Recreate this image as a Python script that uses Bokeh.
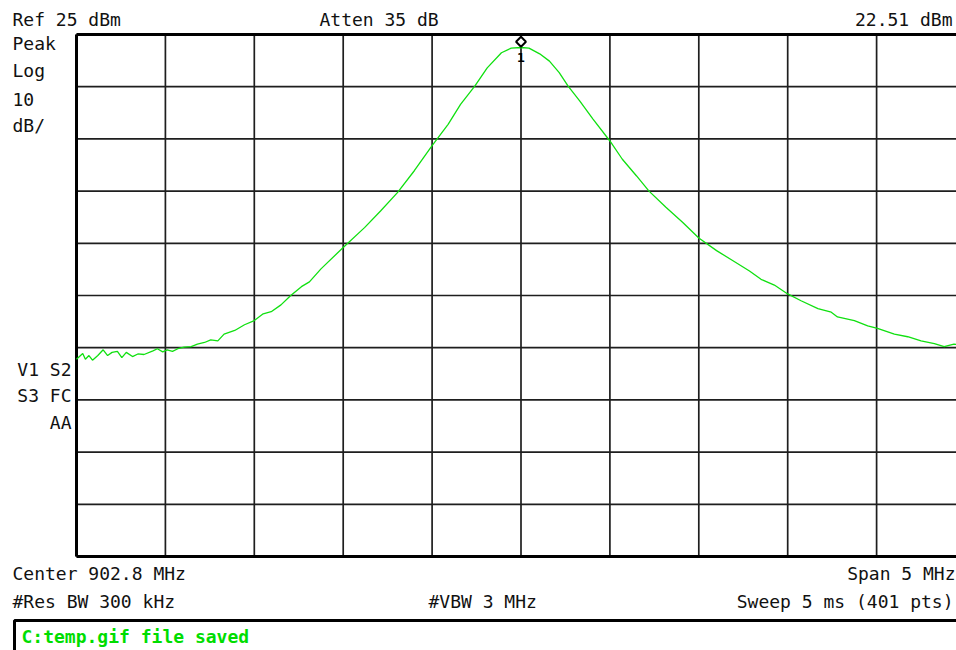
from bokeh.plotting import figure
from bokeh.models import Label, Range1d, BoxAnnotation
from bokeh.embed import file_html
from bokeh.resources import INLINE
from bokeh.core.properties import value

freq_mhz = [
    900.300, 900.335, 900.350, 900.370, 900.390, 900.420, 900.450, 900.475, 900.500, 900.530,
    900.555, 900.580, 900.615, 900.645, 900.680, 900.730, 900.755, 900.785, 900.810, 900.840,
    900.870, 900.905, 900.945, 900.980, 901.020, 901.055, 901.095, 901.130, 901.190, 901.245,
    901.300, 901.350, 901.395, 901.450, 901.505, 901.565, 901.610, 901.675, 901.800, 901.920,
    902.010, 902.105, 902.200, 902.300, 902.390, 902.460, 902.540, 902.610, 902.690, 902.745,
    902.800, 902.845, 902.905, 902.960, 903.015, 903.065, 903.130, 903.205, 903.300, 903.370,
    903.450, 903.520, 903.615, 903.710, 903.800, 903.900, 903.990, 904.085, 904.150, 904.225,
    904.300, 904.375, 904.470, 904.545, 904.580, 904.675, 904.750, 904.805, 904.900, 904.975,
    905.050, 905.125, 905.180, 905.235, 905.300,
]
level_dbm = [
    -37.2, -36.1, -37.2, -36.5, -37.4, -36.5, -35.4, -36.5, -35.9, -35.7,
    -36.9, -35.9, -36.7, -36.2, -36.3, -35.6, -35.2, -35.8, -35.4, -35.7,
    -35.2, -34.9, -34.8, -34.3, -34.0, -33.5, -33.7, -32.4, -31.7, -30.6,
    -29.8, -28.5, -28.1, -26.8, -25.0, -23.3, -22.4, -19.9, -15.8, -12.0,
    -8.8, -5.3, -1.1, 3.7, 7.8, 11.6, 15.1, 18.6, 21.5, 22.4,
    22.51, 22.4, 21.3, 19.9, 17.7, 15.1, 12.3, 8.8, 4.6, 1.1,
    -2.1, -5.0, -8.1, -11.0, -14.0, -16.4, -18.3, -20.3, -21.9, -23.0,
    -24.7, -26.0, -27.5, -28.2, -29.1, -29.8, -30.8, -31.3, -32.4, -32.9,
    -33.7, -34.2, -34.8, -34.3, -34.6,
]
x_ticks = [900.3, 900.8, 901.3, 901.8, 902.3, 902.8, 903.3, 903.8, 904.3, 904.8, 905.3]
y_ticks = [-75, -65, -55, -45, -35, -25, -15, -5, 5, 15, 25]

W, H = 956, 650
GRAT_LEFT_PX, GRAT_TOP_PX = 76, 34          # graticule position on screen
PX_PER_MHZ, PX_PER_DB = 177.8, 5.22
f0, f1 = x_ticks[0], x_ticks[-1]
l_top, l_bot = y_ticks[-1], y_ticks[0]

x_start = f0 - GRAT_LEFT_PX / PX_PER_MHZ
x_end = x_start + W / PX_PER_MHZ
y_end = l_top + GRAT_TOP_PX / PX_PER_DB
y_start = y_end - H / PX_PER_DB

GREEN = "#10e010"
FONT = "DejaVu Sans Mono"

p = figure(width=W, height=H, title=None,
           x_range=Range1d(x_start, x_end), y_range=Range1d(y_start, y_end),
           x_axis_type=None, y_axis_type=None,
           output_backend="svg", toolbar_location=None, min_border=0)
p.background_fill_color = "white"
p.border_fill_color = "white"
p.outline_line_color = None

# graticule
GRID_C = "#1e1e1e"
p.segment(x0=x_ticks, y0=[l_bot] * len(x_ticks), x1=x_ticks, y1=[l_top] * len(x_ticks),
          line_color=GRID_C, line_width=1.7)
p.segment(x0=[f0] * len(y_ticks), y0=y_ticks, x1=[f1] * len(y_ticks), y1=y_ticks,
          line_color=GRID_C, line_width=1.7)
# thick border (left, top, bottom)
p.segment(x0=[f0, f0, f0], y0=[l_bot, l_top, l_bot], x1=[f0, f1, f1], y1=[l_top, l_top, l_bot],
          line_color="black", line_width=3)

p.line(freq_mhz, level_dbm, line_color=GREEN, line_width=1.3)

# marker 1 at peak
peak_i = max(range(len(level_dbm)), key=lambda i: level_dbm[i])
peak_f = freq_mhz[peak_i]
peak_l = level_dbm[peak_i]
p.scatter(x=[peak_f], y=[peak_l + 1.1], marker="square", angle=0.7854, size=7,
          fill_color="white", line_color="black", line_width=2)
p.text(x=[peak_f], y=[peak_l], text=["1"], text_font=value(FONT), text_font_style="bold",
       text_font_size="13px", text_align="center", text_baseline="top", y_offset=6,
       text_color="black")

def lab(x, y, t, align="left", color="#111111", style="normal"):
    p.add_layout(Label(x=x, y=y, x_units="screen", y_units="screen", text=t,
                       text_font=FONT, text_font_size="18px", text_font_style=style,
                       text_baseline="alphabetic", text_align=align, text_color=color))

lab(12, 631, "Ref 25 dBm")
lab(319, 631, "Atten 35 dB")
lab(952, 631, "22.51 dBm", "right")
lab(12, 607, "Peak")
lab(12, 580, "Log")
lab(12, 551, "10")
lab(12, 525, "dB/")
lab(71, 281, "V1 S2", "right")
lab(71, 255, "S3 FC", "right")
lab(71, 228, "AA", "right")
lab(12, 77, "Center 902.8 MHz")
lab(12, 49, "#Res BW 300 kHz")
lab(428, 49, "#VBW 3 MHz")
lab(955, 77, "Span 5 MHz", "right")
lab(953, 49, "Sweep 5 ms (401 pts)", "right")

# status bar box
p.add_layout(BoxAnnotation(left=14, right=1000, top=30, bottom=-20,
                           left_units="screen", right_units="screen",
                           top_units="screen", bottom_units="screen",
                           fill_alpha=0, line_color="black", line_width=3, line_alpha=1))
lab(21, 14, "C:temp.gif file saved", color="#00dd00", style="bold")

open("out.html", "w").write(file_html(p, INLINE))
